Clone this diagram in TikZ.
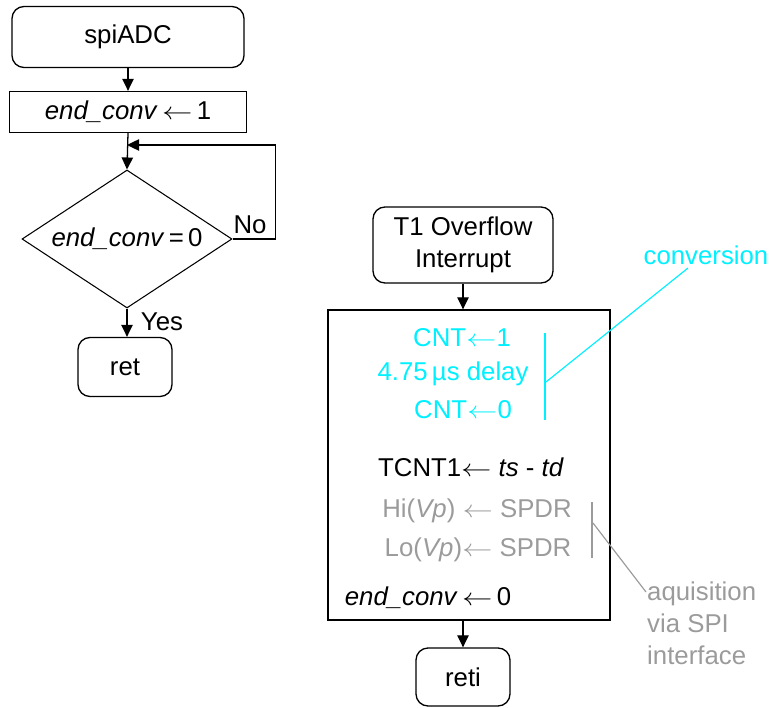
\documentclass[tikz,border=0pt]{standalone}
\usepackage{fontspec}
\setmainfont{Liberation Sans}
\usetikzlibrary{shapes}
\usetikzlibrary{positioning}
\usetikzlibrary{arrows.meta}
\definecolor{convcol}{RGB}{0,240,255}
\definecolor{acqcol}{RGB}{155,155,155}
\newcommand{\larr}{\scalebox{1.25}[1]{$\leftarrow$}}
\tikzset{
    termbox/.style = {rectangle, rounded corners=0.36cm, line width=1.1pt, draw=black, align=center},
    procbox/.style = {rectangle, line width=1.1pt, draw=black, align=center},
    decbox/.style = {diamond, line width=0.9pt, draw=black, inner sep=0pt, aspect=1.5,
        minimum width=6.3cm, minimum height=4.14cm},
    txt/.style = {inner sep=0pt, align=center},
    flow/.style = {-{Triangle[length=0.36cm,width=0.34cm]}, line width=1.1pt},
    convline/.style = {line width=1pt, convcol},
    acqline/.style = {line width=1pt, acqcol},
    every picture/.style={font issue=\fontsize{22}{27}},
    font issue/.style={execute at begin picture={#1\selectfont}
  }
}

\begin{document}
\begin{tikzpicture}[x=0.03cm,y=-0.03cm]
\useasboundingbox (0,0) rectangle (773,708);
%
% spiADC
\node[termbox, minimum width=6.96cm, minimum height=1.83cm] at (128,37) (spi) {spiADC};
\node[procbox, minimum width=7.11cm, minimum height=1.23cm] at (128,112) (endc) {\textit{end\_conv}\,\larr\,1};
\node[decbox] at (127,239) (dec) {\textit{end\_conv}\,=\,0};
\node[termbox, minimum width=2.82cm, minimum height=1.77cm] at (125,367) (ret) {ret};
\node[txt] at (250,225) (nolbl) {No};
\node[txt] at (162,322) (yeslbl) {Yes};
\coordinate (loop) at (127,145);
%
\draw[flow] (spi) -- (endc);
\draw[flow] (endc.south) -- (dec.north);
\draw[flow] (dec.south) -- (dec.south |- ret.north);
\draw[flow] (dec.east) -- ++(43,0) |- (loop);
%
% T1 overflow interrupt
\node[termbox, minimum width=5.4cm, minimum height=2.28cm] at (463,245) (t1) {T1 Overflow\\Interrupt};
\node[procbox, minimum width=8.46cm, minimum height=9.3cm] at (469,465) (body) {};
\node[termbox, minimum width=2.82cm, minimum height=1.74cm] at (463,677) (reti) {reti};
%
\node[txt, convcol] at (462,338) (cnt1) {CNT\larr1};
\node[txt, convcol] at (453,374) (delay) {4.75\,µs delay};
\node[txt, convcol] at (463,410) (cnt0) {CNT\larr0};
\node[txt] at (471,467) (tcnt) {TCNT1\larr\ \textit{ts} - \textit{td}};
\node[txt, acqcol] at (477,511) (hi) {Hi(\textit{Vp}) \larr\ SPDR};
\node[txt, acqcol] at (478,550) (lo) {Lo(\textit{Vp})\larr\ SPDR};
\node[txt] at (428,598) (endc0) {\textit{end\_conv}\,\larr\,0};
%
\node[txt, convcol] at (706,255) (convlbl) {conversion};
\node[txt, acqcol, align=left, anchor=north west] at (647,582) (acqlbl) {aquisition\\via SPI\\interface};
%
\coordinate (cbtop) at (545,333);
\coordinate (cbbot) at (545,420);
\coordinate (cbmid) at (546,382);
\coordinate (cbend) at (688,268);
\coordinate (abtop) at (592,502);
\coordinate (abbot) at (592,558);
\coordinate (abmid) at (593,523);
\coordinate (abend) at (646,592);
%
\draw[flow] (t1.south) -- (t1.south |- body.north);
\draw[flow] (reti.north |- body.south) -- (reti.north);
\draw[convline] (cbtop) -- (cbbot);
\draw[convline] (cbmid) -- (cbend);
\draw[acqline] (abtop) -- (abbot);
\draw[acqline] (abmid) -- (abend);
\end{tikzpicture}
\end{document}
